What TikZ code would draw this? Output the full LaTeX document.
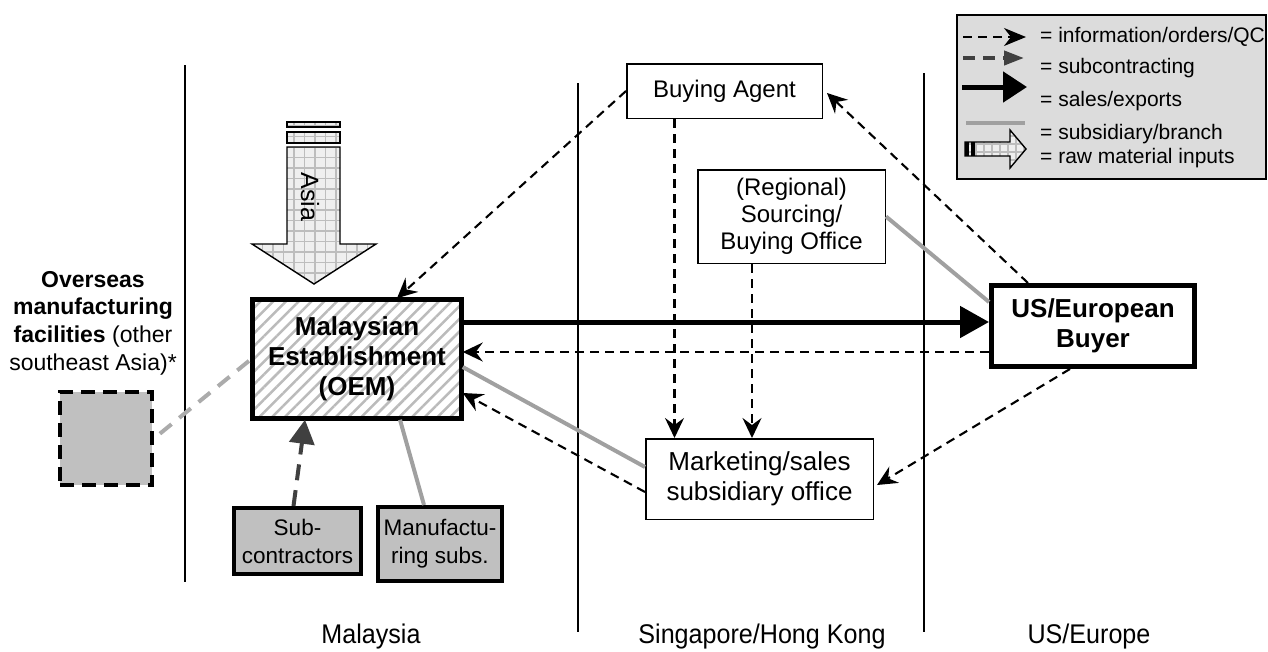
\documentclass[tikz,border=0pt]{standalone}
\usepackage{fontspec}
\setmainfont{Liberation Sans}
\usetikzlibrary{arrows.meta,patterns.meta,calc}

\definecolor{legendgray}{HTML}{DCDCDC}
\definecolor{boxgray}{HTML}{C0C0C0}
\definecolor{branchgray}{HTML}{A0A0A0}
\definecolor{overgray}{HTML}{ABABAB}
\definecolor{subgray}{HTML}{404040}
\definecolor{gridline}{HTML}{BDBDBD}
\definecolor{gridbg}{HTML}{EFEFEF}
\definecolor{hatch}{HTML}{BBBBBB}

\tikzset{
  plainbox/.style={draw, line width=1.5pt, fill=white, align=center, inner sep=0pt},
  heavybox/.style={draw, line width=5pt, align=center, inner sep=0pt,
                   font=\fontsize{26}{30}\selectfont\bfseries},
  greybox/.style={draw, line width=4pt, fill=boxgray, align=center, inner sep=0pt,
                  font=\fontsize{22.5}{28}\selectfont},
  info/.style={line width=2.1pt, dash pattern=on 9pt off 6pt,
               -{Stealth[length=20pt,width=19pt,inset=7pt]}},
  subc/.style={subgray, line width=4pt, dash pattern=on 16pt off 10pt,
               -{Triangle[length=24pt,width=25pt]}},
  sales/.style={line width=5pt, -{Triangle[length=29pt,width=31pt]}},
  branch/.style={branchgray, line width=4pt},
  divider/.style={line width=1.5pt},
  legtext/.style={anchor=west, inner sep=0pt, font=\fontsize{21}{24}\selectfont},
  region/.style={anchor=base, inner sep=0pt, font=\fontsize{27}{30}\selectfont},
}

\begin{document}
\begin{tikzpicture}[x=1pt,y=-1pt]
\useasboundingbox (0,0) rectangle (1268,651);

% region dividers
\draw[divider] (185,65) -- (185,582);
\draw[divider] (578,83) -- (578,632);
\draw[divider] (924,73) -- (924,632);

% region names
\node[region] (rmy) at (371,643) {\scalebox{0.93}[1]{Malaysia}};
\node[region] (rsg) at (762,643) {\scalebox{0.93}[1]{Singapore/Hong Kong}};
\node[region] (rus) at (1089,643) {\scalebox{0.93}[1]{US/Europe}};

% raw material inputs from Asia
\begin{scope}
  \clip (287,122) rectangle (340,127)
        (287,132) rectangle (340,143)
        (287,147) -- (340,147) -- (340,244) -- (376,244) -- (314,284)
        -- (252,244) -- (287,244) -- cycle;
  \fill[gridbg] (240,110) rectangle (390,290);
  \draw[gridline, line width=1.3pt, step=10.5pt] (240,110) grid (390,290);
\end{scope}
\draw[line width=1.4pt] (287,122) rectangle (340,127);
\draw[line width=1.4pt] (287,132) rectangle (340,143);
\draw[line width=1.4pt] (287,147) -- (340,147) -- (340,244) -- (376,244)
  -- (314,284) -- (252,244) -- (287,244) -- cycle;
\node[rotate=-90, inner sep=0pt, font=\fontsize{25}{25}\selectfont] (asia) at (310,197) {Asia};

% boxes
\node[plainbox, minimum width=195.5pt, minimum height=54.5pt,
      font=\fontsize{24}{27}\selectfont] (ba) at (724.5,91) {Buying Agent};
\node[plainbox, minimum width=187.5pt, minimum height=93.5pt,
      font=\fontsize{24}{27}\selectfont] (ro) at (791.5,216.5)
      {(Regional)\\Sourcing/\\Buying Office};
\node[plainbox, minimum width=227.5pt, minimum height=80.5pt,
      font=\fontsize{26}{30}\selectfont] (ms) at (759.5,479)
      {Marketing/sales\\subsidiary office};
\node[heavybox, minimum width=209pt, minimum height=119pt,
      preaction={fill=white},
      pattern={Lines[angle=45,distance=9pt,line width=2.5pt]}, pattern color=hatch]
      (oem) at (357,359) {Malaysian\\Establishment\\(OEM)};
\node[heavybox, fill=white, minimum width=203pt, minimum height=81pt]
      (buyer) at (1093,326) {US/European\\Buyer};
\node[greybox, minimum width=127pt, minimum height=66pt] (sc) at (297.5,541)
      {Sub-\\contractors};
\node[greybox, minimum width=124pt, minimum height=74pt] (mf) at (440,544)
      {Manufactu-\\ring subs.};
\node[draw, line width=4pt, dash pattern=on 14pt off 8pt, fill=boxgray,
      minimum width=92pt, minimum height=93pt, inner sep=0pt] (ov) at (106,438.5) {};
\node[align=center, inner sep=0pt, font=\fontsize{23}{27.7}\selectfont] (ovl) at (93,323)
      {\textbf{Overseas}\\\textbf{manufacturing}\\\textbf{facilities} (other\\southeast Asia)*};

% anchor points on the box borders
\coordinate (oemsales) at ([yshift=37pt]oem.east);
\coordinate (buyinfo) at ([yshift=-26pt]buyer.west);

% connectors
\draw[info] (ba.west) -- ([xshift=40pt]oem.north);
\draw[info] ([xshift=-50pt]ba.south) -- ([xshift=-85pt]ms.north);
\draw[info] ([xshift=-39.5pt]ro.south) -- ([xshift=-7.5pt]ms.north);
\draw[branch] (ro.east) -- ([yshift=-19pt]buyer.north west);
\draw[info] ([xshift=-65pt]buyer.north) -- ([xshift=4pt,yshift=-2pt]ba.east);
\draw[sales] (oemsales) -- (oemsales -| buyer.west);
\draw[info] (buyinfo) -- (buyinfo -| oem.east);
\draw[branch] ([yshift=-8pt]oem.east) -- ([yshift=12pt]ms.west);
\draw[info] ([yshift=-13pt]ms.west) -- ([yshift=-34pt]oem.east);
\draw[info] ([xshift=-23pt]buyer.south) -- ([xshift=3pt,yshift=-6pt]ms.east);
\draw[subc] ([xshift=-4pt]sc.north) -- ([xshift=-52pt]oem.south);
\draw[branch] ([xshift=43pt]oem.south) -- ([xshift=-16pt]mf.north);
\draw[overgray, line width=4pt, dash pattern=on 15pt off 10pt, shorten <=3pt, shorten >=3pt]
  (oem.west) -- (ov.east);

% legend
\draw[fill=legendgray, line width=1.5pt] (957,15) rectangle (1266,179);
\coordinate (k1a) at (963,37);  \coordinate (k1b) at (1026,37);
\coordinate (k2a) at (963,58);  \coordinate (k2b) at (1024,58);
\coordinate (k3a) at (962,87);  \coordinate (k3b) at (1027,87);
\coordinate (k4a) at (966,123); \coordinate (k4b) at (1025,123);
\draw[line width=2.1pt, dash pattern=on 9pt off 6pt,
      -{Stealth[length=22pt,width=18pt,inset=7pt]}] (k1a) -- (k1b);
\draw[subgray, line width=4pt, dash pattern=on 12pt off 8pt,
      -{Triangle[length=20pt,width=14pt]}] (k2a) -- (k2b);
\draw[line width=5pt, -{Triangle[length=24pt,width=30pt]}] (k3a) -- (k3b);
\draw[branch] (k4a) -- (k4b);
\begin{scope}
  \clip (965,142) -- (1010,142) -- (1010,130) -- (1026,149) -- (1010,168)
        -- (1010,156) -- (965,156) -- cycle;
  \fill[gridbg] (960,125) rectangle (1030,172);
  \draw[gridline, line width=1.2pt, step=8pt] (960,125) grid (1030,172);
\end{scope}
\fill (965,142) rectangle (968.5,156);
\fill (971,142) rectangle (974.5,156);
\draw[line width=1.4pt] (965,142) -- (1010,142) -- (1010,130) -- (1026,149)
  -- (1010,168) -- (1010,156) -- (965,156) -- cycle;
\node[legtext] (t1) at (1040,37) {= information/orders/QC};
\node[legtext] (t2) at (1040,68) {= subcontracting};
\node[legtext] (t3) at (1040,101) {= sales/exports};
\node[legtext] (t4) at (1040,134) {= subsidiary/branch};
\node[legtext] (t5) at (1040,158) {= raw material inputs};
\end{tikzpicture}
\end{document}
